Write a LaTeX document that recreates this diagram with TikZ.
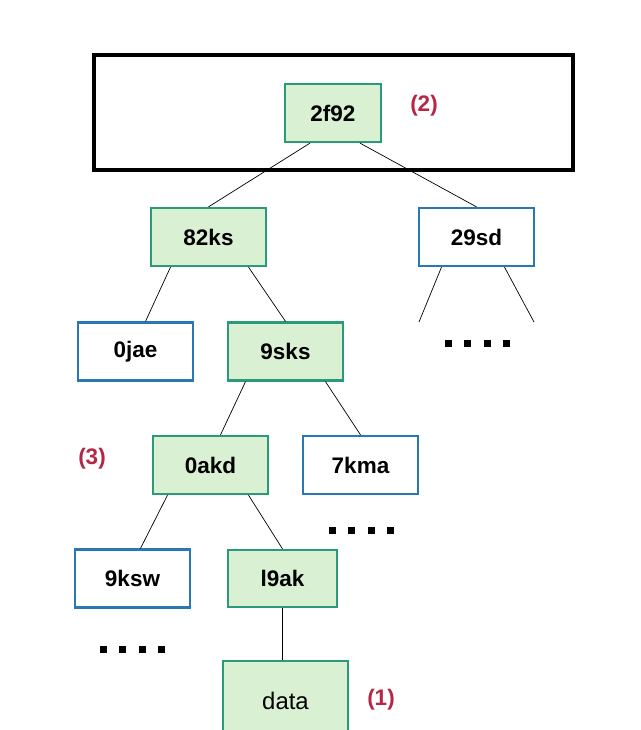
\documentclass[tikz,border=0pt]{standalone}
\usepackage{fontspec}
\setmainfont{Liberation Sans}
\usetikzlibrary{calc}
\definecolor{gfill}{RGB}{217,240,211}
\definecolor{gline}{RGB}{42,154,122}
\definecolor{bline}{RGB}{40,120,180}
\definecolor{lred}{RGB}{180,40,70}
\tikzset{
  gbox/.style={draw=gline, fill=gfill, line width=1.6pt, minimum width=115*0.025cm, minimum height=58*0.025cm, inner sep=0pt, font=\fontsize{16}{18}\selectfont\bfseries},
  bbox/.style={draw=bline, fill=white, line width=1.6pt, minimum width=115*0.025cm, minimum height=58*0.025cm, inner sep=0pt, font=\fontsize{16}{18}\selectfont\bfseries},
  lab/.style={text=lred, font=\fontsize{16}{18}\selectfont\bfseries},
  edge/.style={line width=0.5pt, black},
  dotsq/.style={fill=black, minimum size=7*0.025cm, inner sep=0pt}
}
\begin{document}
\begin{tikzpicture}[x=0.025cm, y=-0.025cm]
\useasboundingbox (0,0) rectangle (640,730);
\node[draw=black, line width=2.3pt, minimum width=479*0.025cm, minimum height=115*0.025cm, inner sep=0pt] (frame) at (333.5,112.5) {};
\node[gbox, minimum width=96*0.025cm] (n2f92) at (333,113) {2f92};
\node[lab] (l2) at (424,106) {(2)};
\node[gbox] (n82ks) at (208.5,237) {82ks};
\node[bbox] (n29sd) at (476.5,237) {29sd};
\node[bbox] (n0jae) at (135.5,351.5) {0jae};
\node[gbox] (n9sks) at (285.5,351.5) {9sks};
\node[gbox] (n0akd) at (210.5,465) {0akd};
\node[bbox] (n7kma) at (360.5,465) {7kma};
\node[lab] (l3) at (92,459) {(3)};
\node[bbox] (n9ksw) at (132.5,578.5) {9ksw};
\node[gbox, minimum width=109*0.025cm, minimum height=57*0.025cm] (nl9ak) at (282.5,578.5) {l9ak};
\node[gbox, minimum width=125*0.025cm, minimum height=85*0.025cm, anchor=north] (ndata) at (285.5,660) {};
\node[font=\fontsize{17}{19}\selectfont] (tdata) at (285.5,701) {data};
\node[lab] (l1) at (381,700) {(1)};
% edges
\draw[edge] ($(n2f92.south)+(-23,0)$) -- (n82ks.north);
\draw[edge] ($(n2f92.south)+(27,0)$) -- (n29sd.north);
\draw[edge] ($(n82ks.south)+(-38,0)$) -- ($(n0jae.north)+(10,0)$);
\draw[edge] ($(n82ks.south)+(40,0)$) -- (n9sks.north);
\coordinate (e1) at (419,322);
\coordinate (e2) at (534,322);
\draw[edge] ($(n29sd.south)+(-35,0)$) -- (e1);
\draw[edge] ($(n29sd.south)+(28,0)$) -- (e2);
\draw[edge] ($(n9sks.south)+(-40,0)$) -- ($(n0akd.north)+(10,0)$);
\draw[edge] ($(n9sks.south)+(40,0)$) -- (n7kma.north);
\draw[edge] ($(n0akd.south)+(-43,0)$) -- ($(n9ksw.north)+(8,0)$);
\draw[edge] ($(n0akd.south)+(38,0)$) -- (nl9ak.north);
\draw[edge] (nl9ak.south) -- (nl9ak.south |- ndata.north);
% dots
\foreach \i in {0,1,2,3} {
  \node[dotsq] (da\i) at (448+19.5*\i,343) {};
  \node[dotsq] (db\i) at (332+19.5*\i,530) {};
  \node[dotsq] (dc\i) at (103+19.5*\i,649) {};
}
\end{tikzpicture}
\end{document}
